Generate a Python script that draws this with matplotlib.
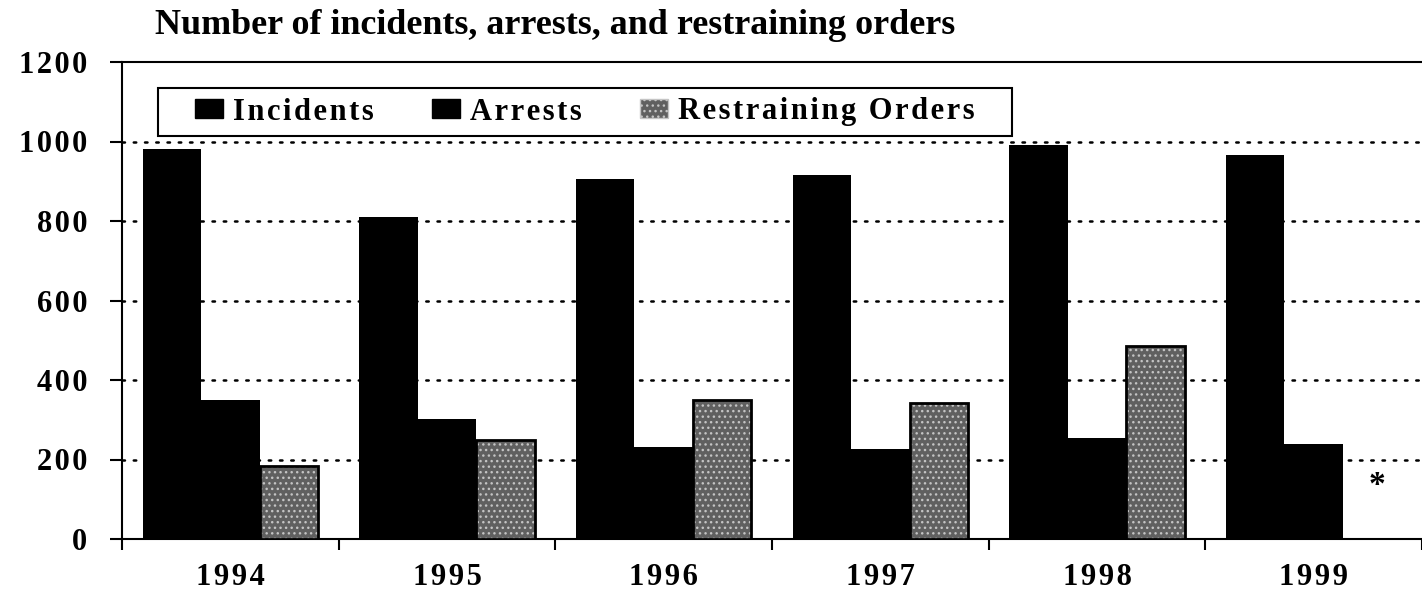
import numpy as np
import matplotlib
matplotlib.use("Agg")
import matplotlib.pyplot as plt
from matplotlib.patches import Patch, Rectangle

years = ["1994", "1995", "1996", "1997", "1998", "1999"]
incidents = [981, 810, 906, 916, 991, 966]
arrests = [350, 302, 231, 226, 254, 239]
restraining = [184, 249, 350, 342, 486, np.nan]  # 1999 not available (*)
yticks = [0, 200, 400, 600, 800, 1000, 1200]

plt.rcParams["font.family"] = ["Liberation Serif", "DejaVu Serif"]
plt.rcParams["font.weight"] = "bold"
plt.rcParams["hatch.linewidth"] = 1.0

STIPPLE = "#606060"


def spaced(s):
    # the scanned original uses wide letter spacing
    return "\u200a".join(s)


fig = plt.figure(figsize=(14.22, 5.92), dpi=100)
ax = fig.add_axes([122 / 1422, 53 / 592, 1300 / 1422, 477 / 592])

x = np.arange(len(years))
w = 0.27
ax.bar(x - w, incidents, width=w, color="black", zorder=3)
ax.bar(x, arrests, width=w, color="black", zorder=3)
ax.bar(x + w, restraining, width=w, facecolor=STIPPLE, edgecolor="#c4c4c4",
       linewidth=0, hatch="...", zorder=3)
ax.bar(x + w, restraining, width=w, fill=False, edgecolor="black",
       linewidth=2, zorder=4)

# missing restraining orders value for 1999
ax.text(x[-1] + w + 0.02, 95, "*", ha="center", va="bottom", fontsize=24,
        fontweight="bold", zorder=4)

ax.set_xlim(-0.5, -0.5 + 1300 / 219.5)
ax.set_ylim(0, 1200)

ax.set_yticks(yticks)
ax.set_yticklabels([spaced(str(v)) for v in yticks], fontsize=22)
ax.tick_params(axis="y", direction="out", length=9, width=1.5, pad=16)

ax.set_xticks(x)
ax.set_xticklabels([spaced(y) for y in years], fontsize=22)
ax.set_xticks(np.arange(-0.5, len(years), 1.0), minor=True)
ax.tick_params(axis="x", which="major", length=0, pad=17)
ax.tick_params(axis="x", which="minor", direction="out", length=8, width=1.5)

for v in yticks[1:-1]:
    ax.axhline(v, color="black", linewidth=1.8, linestyle=(0, (1, 3.5)),
               dash_capstyle="round", zorder=1)

for side in ["left", "bottom", "top"]:
    ax.spines[side].set_linewidth(1.5)
ax.spines["right"].set_visible(False)

# legend box
bx, by, bw, bh = 36 / 1300, 403 / 477, 854 / 1300, 48 / 477
ax.add_patch(Rectangle((bx, by), bw, bh, transform=ax.transAxes,
                       facecolor="white", edgecolor="black", linewidth=1.5,
                       zorder=5))
handles = [
    Patch(facecolor="black", edgecolor="black"),
    Patch(facecolor="black", edgecolor="black"),
    Patch(facecolor=STIPPLE, edgecolor="#c4c4c4", hatch="..."),
]
labels = [spaced("Incidents"), spaced("Arrests"), spaced("Restraining Orders")]
leg = ax.legend(handles, labels, ncol=3, loc="center",
                bbox_to_anchor=(bx + bw / 2, by + bh / 2), fontsize=22,
                frameon=False, handlelength=0.9, handleheight=0.6,
                handletextpad=0.35, columnspacing=1.9, borderpad=0,
                borderaxespad=0)
leg.set_zorder(6)

fig.text(155 / 1422, 1 - 26 / 592, "Number of incidents, arrests, and restraining orders",
         fontsize=25.9, fontweight="bold", ha="left", va="center")

fig.savefig("out.png", dpi=100, facecolor="white")
